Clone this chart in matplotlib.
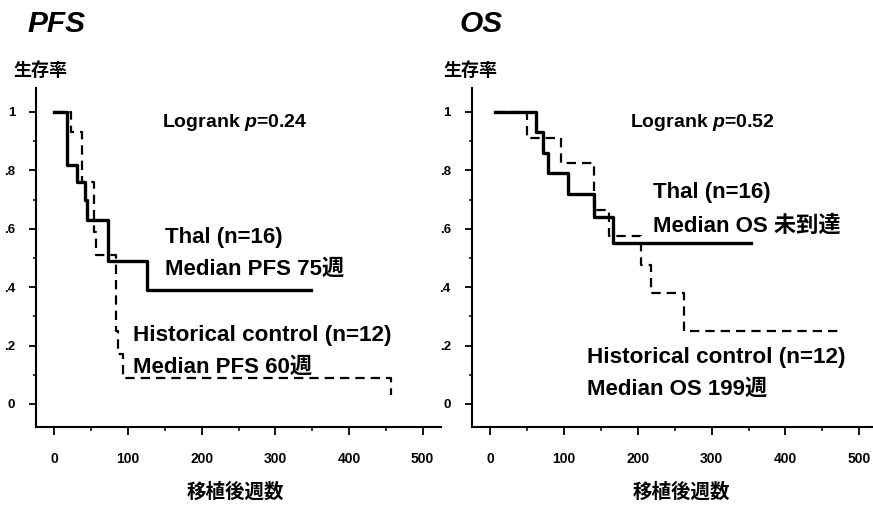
import matplotlib
matplotlib.use('Agg')
import matplotlib.pyplot as plt
from matplotlib.ticker import MultipleLocator

# Kaplan-Meier steps (weeks, survival)
pfs_thal_t = [0, 17, 31, 42, 44, 73, 126, 348]
pfs_thal_s = [1.0, 0.82, 0.76, 0.70, 0.63, 0.49, 0.39, 0.39]
pfs_ctrl_t = [0, 22, 38, 54, 57, 83, 86, 93, 457]
pfs_ctrl_s = [1.0, 0.93, 0.76, 0.59, 0.51, 0.25, 0.17, 0.09, 0.03]

os_thal_t = [7, 62, 72, 78, 106, 141, 166, 354]
os_thal_s = [1.0, 0.93, 0.86, 0.79, 0.72, 0.64, 0.55, 0.55]
os_ctrl_t = [7, 50, 96, 141, 161, 204, 218, 263, 478]
os_ctrl_s = [1.0, 0.91, 0.825, 0.665, 0.575, 0.475, 0.38, 0.25, 0.25]

x_ticks = [0, 100, 200, 300, 400, 500]
y_ticks = [0, 0.2, 0.4, 0.6, 0.8, 1.0]
y_tick_labels = ['0', '.2', '.4', '.6', '.8', '1']

plt.rcParams['font.family'] = ['Liberation Sans', 'Noto Sans CJK JP', 'DejaVu Sans']
plt.rcParams['font.weight'] = 'bold'
plt.rcParams['mathtext.fontset'] = 'custom'
plt.rcParams['mathtext.it'] = 'Liberation Sans:bold:italic'
plt.rcParams['mathtext.rm'] = 'Liberation Sans:bold'

FAM = ['Liberation Sans', 'Noto Sans CJK JP']

fig = plt.figure(figsize=(8.73, 5.08), dpi=100)
bottom = 1 - 427.3 / 508
height = (427.3 - 88.3) / 508
ax1 = fig.add_axes([36 / 873, bottom, 405 / 873, height])
ax2 = fig.add_axes([471.7 / 873, bottom, 406 / 873, height])

dash = (0, (4.2, 2.7))


def style(ax):
    ax.set_xlim(-25, 525)
    ax.set_ylim(-0.08, 1.081)
    for s in ['top', 'right']:
        ax.spines[s].set_visible(False)
    for s in ['left', 'bottom']:
        ax.spines[s].set_linewidth(1.5)
    ax.set_xticks(x_ticks)
    ax.xaxis.set_minor_locator(MultipleLocator(50))
    ax.set_yticks(y_ticks)
    ax.set_yticklabels(y_tick_labels)
    ax.yaxis.set_minor_locator(MultipleLocator(0.1))
    ax.tick_params(axis='x', which='major', length=6, width=1.3, pad=12, labelsize=10)
    ax.tick_params(axis='x', which='minor', length=3, width=1.1)
    ax.tick_params(axis='y', which='major', length=5, width=1.3, pad=10, labelsize=9.5)
    ax.tick_params(axis='y', which='minor', length=2.3, width=1.1)
    for lab in ax.get_xticklabels() + ax.get_yticklabels():
        lab.set_fontweight('bold')
    ax.set_xlabel('移植後週数', family=FAM, fontsize=14, fontweight='bold')
    ax.xaxis.set_label_coords(0.493, -0.19)
    ax.xaxis.label.set_va('center')


# PFS panel
ax1.step(pfs_thal_t, pfs_thal_s, where='post', color='black', lw=2.4)
ax1.step(pfs_ctrl_t, pfs_ctrl_s, where='post', color='black', lw=1.6, linestyle=dash)
style(ax1)
ax1.text(146, 0.950, r'Logrank $p$=0.24', fontsize=14, fontweight='bold', va='baseline')
ax1.text(150, 0.550, 'Thal (n=16)', fontsize=16, fontweight='bold', va='baseline', family=FAM)
ax1.text(150, 0.442, 'Median PFS 75週', fontsize=16, fontweight='bold', va='baseline', family=FAM)
ax1.text(107, 0.217, 'Historical control (n=12)', fontsize=16.2, fontweight='bold', va='baseline', family=FAM)
ax1.text(107, 0.107, 'Median PFS 60週', fontsize=16, fontweight='bold', va='baseline', family=FAM)

# OS panel
ax2.step(os_thal_t, os_thal_s, where='post', color='black', lw=2.4)
ax2.step(os_ctrl_t, os_ctrl_s, where='post', color='black', lw=1.6, linestyle=dash)
style(ax2)
ax2.xaxis.set_label_coords(0.517, -0.19)
ax2.text(190, 0.950, r'Logrank $p$=0.52', fontsize=14, fontweight='bold', va='baseline')
ax2.text(221, 0.704, 'Thal (n=16)', fontsize=16, fontweight='bold', va='baseline', family=FAM)
ax2.text(221, 0.590, 'Median OS 未到達', fontsize=16, fontweight='bold', va='baseline', family=FAM)
ax2.text(131, 0.141, 'Historical control (n=12)', fontsize=16.2, fontweight='bold', va='baseline', family=FAM)
ax2.text(131, 0.031, 'Median OS 199週', fontsize=16, fontweight='bold', va='baseline', family=FAM)

# panel titles and y-axis captions
fig.text(27 / 873, 1 - 31.7 / 508, 'PFS', fontsize=21.5, fontweight='bold', style='italic', va='baseline')
fig.text(460 / 873, 1 - 31.7 / 508, 'OS', fontsize=21.5, fontweight='bold', style='italic', va='baseline')
fig.text(13 / 873, 1 - 71 / 508, '生存率', family=FAM, fontsize=13, fontweight='bold', va='center')
fig.text(443 / 873, 1 - 71 / 508, '生存率', family=FAM, fontsize=13, fontweight='bold', va='center')

plt.savefig('out.png', dpi=100)
